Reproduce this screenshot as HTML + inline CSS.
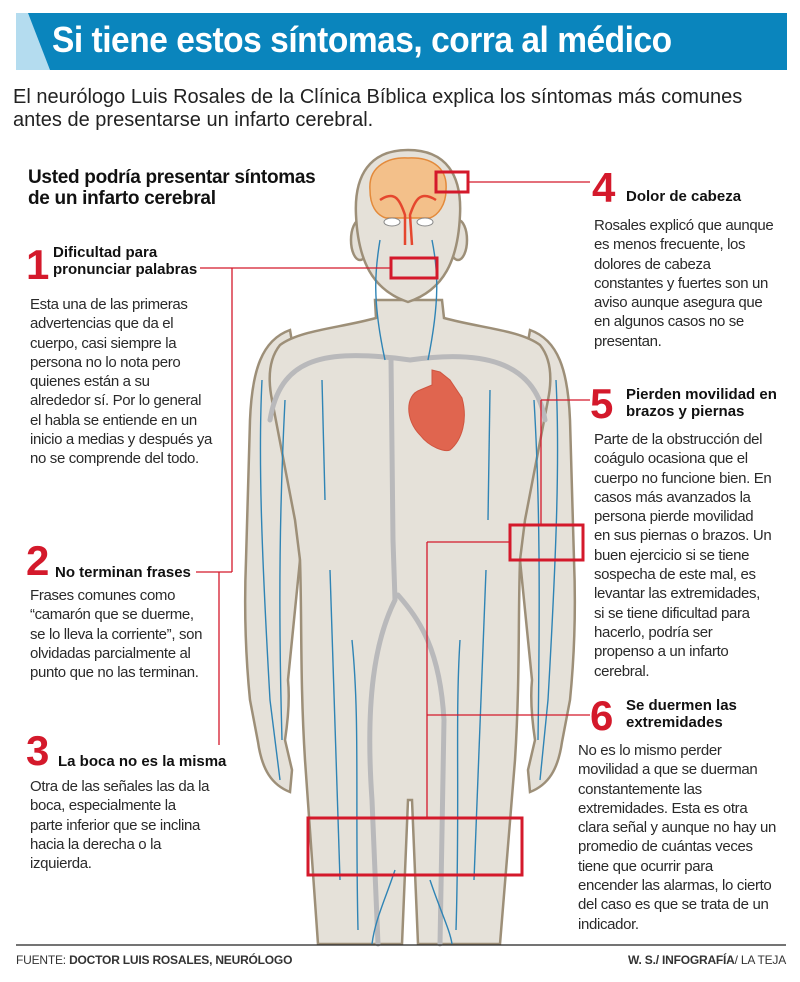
<!DOCTYPE html>
<html><head><meta charset="utf-8"><style>
*{margin:0;padding:0;box-sizing:border-box}
body{width:800px;height:982px;background:#fff;position:relative;overflow:hidden;font-family:"Liberation Sans",sans-serif;color:#222}
.a{position:absolute}
.num{position:absolute;color:#d4192b;font-weight:bold;font-size:42px;line-height:40px;font-family:"Liberation Sans",sans-serif}
.h{position:absolute;font-weight:bold;font-size:15px;line-height:17px;color:#111}
.t{position:absolute;font-size:15px;letter-spacing:-0.35px;line-height:19.3px;color:#2a2a2a;white-space:nowrap}
</style></head><body>
<div class="a" style="left:16px;top:13px;width:771px;height:57px;background:#0a85bd"></div>
<svg class="a" style="left:16px;top:13px" width="36" height="57"><polygon points="0,0 12,0 34,57 0,57" fill="#b4dcef"/></svg>
<div class="a" style="left:52px;top:17px;font-size:36px;font-weight:bold;color:#fff;line-height:46px;letter-spacing:-0.5px;transform:scaleX(0.93);transform-origin:left top;white-space:nowrap">Si tiene estos síntomas, corra al médico</div>
<div class="a" style="left:13px;top:86px;font-size:20px;line-height:23px;color:#222">El neurólogo Luis Rosales de la Clínica Bíblica explica los síntomas más comunes<br>antes de presentarse un infarto cerebral.</div>

<svg class="a" style="left:0;top:0" width="800" height="982">
<g fill="#e5e1d9" stroke="#9d8f78" stroke-width="2.5">
<path d="M290,330 C262,340 252,370 250,420 L246,560 C244,610 246,660 250,700 L258,742 C262,770 272,785 290,792 L292,770 L285,740 C288,720 290,700 288,680 L300,560 L305,420 Z"/>
<path d="M530,330 C558,340 568,370 570,420 L574,560 C576,610 574,660 570,700 L562,742 C558,770 548,785 530,792 L528,770 L535,740 C532,720 530,700 532,680 L520,560 L515,420 Z"/>
<path d="M375,300 L376,318 C340,328 300,330 280,345 C268,360 268,380 272,400 L295,520 L300,560 C302,620 300,680 305,760 L318,944 L402,944 L408,800 L412,800 L418,944 L500,944 L515,760 C520,680 518,620 520,560 L525,520 L548,400 C552,380 552,360 540,345 C520,330 480,328 444,318 L442,300 Z"/>
<ellipse cx="360" cy="240" rx="9" ry="20"/>
<ellipse cx="458" cy="240" rx="9" ry="20"/>
<path d="M408,150 C370,150 354,175 356,215 C358,260 372,290 408,302 C444,290 458,260 460,215 C462,175 446,150 408,150 Z"/>
</g>
<path d="M370,190 C368,165 390,157 408,158 C428,157 448,165 446,190 C446,205 438,215 430,218 L386,218 C376,215 370,205 370,190 Z" fill="#f3c08a" stroke="#e38a3b" stroke-width="1.5"/>
<path d="M380,200 C395,190 400,200 405,215 L405,245 M436,200 C420,190 415,200 410,215 L412,245" fill="none" stroke="#e5472e" stroke-width="2.5"/>
<ellipse cx="392" cy="222" rx="8" ry="4" fill="#fff" stroke="#888"/><ellipse cx="425" cy="222" rx="8" ry="4" fill="#fff" stroke="#888"/>
<g fill="none" stroke="#b9b9bb" stroke-width="5" stroke-linecap="round">
<path d="M270,420 C280,360 320,350 395,358 L410,360 C480,350 535,360 545,420"/>
<path d="M391,360 L393,540 L395,600 C375,640 365,700 372,800 L378,944"/>
<path d="M398,595 C420,620 440,650 444,720 L440,944"/>
</g>
<g fill="none" stroke="#2f84b5" stroke-width="1.4">
<path d="M380,240 C375,270 372,300 385,360"/><path d="M432,240 C438,270 440,300 428,360"/>
<path d="M262,380 C258,460 262,560 270,700 L280,780"/><path d="M285,400 C280,500 278,600 282,740"/>
<path d="M556,380 C560,460 556,560 548,700 L540,780"/><path d="M534,400 C540,500 540,600 538,740"/>
<path d="M330,570 C332,640 335,720 340,880"/><path d="M352,640 C360,720 355,800 358,930"/>
<path d="M486,570 C484,640 480,720 474,880"/><path d="M460,640 C455,720 460,800 456,930"/>
<path d="M322,380 L325,500"/><path d="M490,390 L488,520"/>
<path d="M395,870 C385,900 375,920 372,944"/><path d="M430,880 C440,910 450,930 452,944"/>
</g>
<path d="M420,390 C405,395 405,420 420,435 C430,448 445,452 450,450 C462,440 468,420 462,398 L450,380 L440,372 L432,370 L432,385 L420,390 Z" fill="#e0654f" stroke="#cf5540" stroke-width="1"/>
<g fill="none" stroke="#d4192b" stroke-width="1.3">
<line x1="468" y1="182" x2="590" y2="182"/>
<line x1="200" y1="268" x2="390" y2="268"/>
<line x1="232" y1="268" x2="232" y2="572"/>
<line x1="196" y1="572" x2="232" y2="572"/>
<line x1="219" y1="572" x2="219" y2="745"/>
<line x1="541" y1="400" x2="590" y2="400"/>
<line x1="541" y1="400" x2="541" y2="525"/>
<line x1="427" y1="542" x2="510" y2="542"/>
<line x1="427" y1="542" x2="427" y2="817"/>
<line x1="427" y1="715" x2="590" y2="715"/>
</g>
<g fill="none" stroke="#d4192b" stroke-width="3">
<rect x="436" y="172" width="32" height="20"/>
<rect x="391" y="258" width="46" height="20"/>
<rect x="510" y="525" width="73" height="35"/>
<rect x="308" y="818" width="214" height="57"/>
</g>
<line x1="16" y1="945" x2="786" y2="945" stroke="#222" stroke-width="1.2"/>
</svg>

<div class="a" style="left:28px;top:167px;font-size:19px;font-weight:bold;line-height:21px;color:#111;letter-spacing:-0.3px">Usted podría presentar síntomas<br>de un infarto cerebral</div>

<div class="num" style="left:26px;top:245px">1</div>
<div class="h" style="left:53px;top:244px">Dificultad para<br>pronunciar palabras</div>
<div class="t" style="left:30px;top:295px">Esta una de las primeras<br>advertencias que da el<br>cuerpo, casi siempre la<br>persona no lo nota pero<br>quienes están a su<br>alrededor sí. Por lo general<br>el habla se entiende en un<br>inicio a medias y después ya<br>no se comprende del todo.</div>

<div class="num" style="left:26px;top:541px">2</div>
<div class="h" style="left:55px;top:564px">No terminan frases</div>
<div class="t" style="left:30px;top:586px">Frases comunes como<br>“camarón que se duerme,<br>se lo lleva la corriente”, son<br>olvidadas parcialmente al<br>punto que no las terminan.</div>

<div class="num" style="left:26px;top:731px">3</div>
<div class="h" style="left:58px;top:753px">La boca no es la misma</div>
<div class="t" style="left:30px;top:777px">Otra de las señales las da la<br>boca, especialmente la<br>parte inferior que se inclina<br>hacia la derecha o la<br>izquierda.</div>

<div class="num" style="left:592px;top:168px">4</div>
<div class="h" style="left:626px;top:188px">Dolor de cabeza</div>
<div class="t" style="left:594px;top:216px">Rosales explicó que aunque<br>es menos frecuente, los<br>dolores de cabeza<br>constantes y fuertes son un<br>aviso aunque asegura que<br>en algunos casos no se<br>presentan.</div>

<div class="num" style="left:590px;top:384px">5</div>
<div class="h" style="left:626px;top:386px">Pierden movilidad en<br>brazos y piernas</div>
<div class="t" style="left:594px;top:430px">Parte de la obstrucción del<br>coágulo ocasiona que el<br>cuerpo no funcione bien. En<br>casos más avanzados la<br>persona pierde movilidad<br>en sus piernas o brazos. Un<br>buen ejercicio si se tiene<br>sospecha de este mal, es<br>levantar las extremidades,<br>si se tiene dificultad para<br>hacerlo, podría ser<br>propenso a un infarto<br>cerebral.</div>

<div class="num" style="left:590px;top:696px">6</div>
<div class="h" style="left:626px;top:697px">Se duermen las<br>extremidades</div>
<div class="t" style="left:578px;top:741px">No es lo mismo perder<br>movilidad a que se duerman<br>constantemente las<br>extremidades. Esta es otra<br>clara señal y aunque no hay un<br>promedio de cuántas veces<br>tiene que ocurrir para<br>encender las alarmas, lo cierto<br>del caso es que se trata de un<br>indicador.</div>

<div class="a" style="left:16px;top:953px;font-size:12px;color:#333;letter-spacing:-0.2px">FUENTE: <b>DOCTOR LUIS ROSALES, NEURÓLOGO</b></div>
<div class="a" style="right:14px;top:953px;font-size:12px;color:#333;letter-spacing:-0.2px"><b>W. S./ INFOGRAFÍA</b>/ LA TEJA</div>
</body></html>
